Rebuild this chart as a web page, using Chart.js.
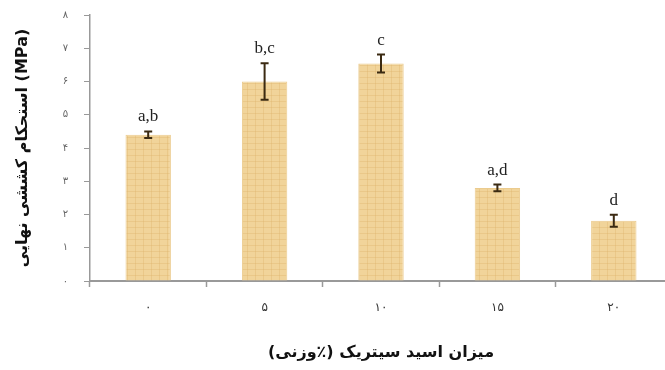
<!DOCTYPE html>
<html>
<head>
<meta charset="utf-8">
<script src="https://cdn.jsdelivr.net/npm/chart.js@4"></script>
<style>
  html, body { margin: 0; padding: 0; background: #fff; overflow: hidden; }
  #wrap { width: 672px; height: 370px; }
</style>
</head>
<body>
<div id="wrap"><canvas id="chart" width="672" height="370"></canvas></div>
<script>
const categories = ["۰", "۵", "۱۰", "۱۵", "۲۰"];
const strength = [4.4, 6.0, 6.54, 2.8, 1.81];
const errors = [0.1, 0.55, 0.27, 0.1, 0.18];
const letters = ["a,b", "b,c", "c", "a,d", "d"];
const yTickLabels = ["۰", "۱", "۲", "۳", "۴", "۵", "۶", "۷", "۸"];

// -------- bar texture
function makePattern() {
  const c = document.createElement("canvas");
  c.width = 8;
  c.height = 6;
  const g = c.getContext("2d");
  g.fillStyle = "#f1d49a";
  g.fillRect(0, 0, 8, 6);
  g.fillStyle = "rgba(222,178,105,0.35)";
  g.fillRect(0, 5, 8, 1);
  g.fillRect(7, 0, 1, 6);
  return g.createPattern(c, "repeat");
}

// -------- error bars + letters
const errorBars = {
  id: "errorBars",
  afterDatasetsDraw(chart) {
    const ctx = chart.ctx;
    const y = chart.scales.y;
    const meta = chart.getDatasetMeta(0);
    ctx.save();
    meta.data.forEach((bar, i) => {
      const x = bar.x;
      const hi = y.getPixelForValue(strength[i] + errors[i]);
      const lo = y.getPixelForValue(strength[i] - errors[i]);
      ctx.strokeStyle = "#3b2a12";
      ctx.lineWidth = 2;
      ctx.beginPath();
      ctx.moveTo(x, hi);
      ctx.lineTo(x, lo);
      ctx.moveTo(x - 4, hi);
      ctx.lineTo(x + 4, hi);
      ctx.moveTo(x - 4, lo);
      ctx.lineTo(x + 4, lo);
      ctx.stroke();

      ctx.fillStyle = "#222";
      ctx.font = "17px 'Liberation Serif'";
      ctx.textAlign = "center";
      ctx.textBaseline = "bottom";
      ctx.fillText(letters[i], x, hi - 6);
    });
    ctx.restore();
  },
};

new Chart(document.getElementById("chart"), {
  type: "bar",
  data: {
    labels: categories,
    datasets: [
      {
        data: strength,
        backgroundColor: makePattern(),
        borderColor: "#ebcb8e",
        borderWidth: 1,
        categoryPercentage: 1,
        barPercentage: 0.39,
      },
    ],
  },
  options: {
    responsive: false,
    animation: false,
    layout: { padding: { left: 0, right: 0, top: 15, bottom: 0 } },
    plugins: { legend: { display: false }, tooltip: { enabled: false } },
    scales: {
      x: {
        grid: {
          drawOnChartArea: false,
          offset: true,
          tickLength: 6,
          color: "#999",
          tickWidth: 1.5,
        },
        border: { color: "#999", width: 2 },
        ticks: {
          color: "#333",
          font: { family: "DejaVu Sans", size: 12 },
          padding: 14,
        },
        title: {
          display: true,
          text: "میزان اسید سیتریک (٪وزنی)",
          color: "#111",
          font: { family: "DejaVu Sans", size: 16, weight: "bold" },
          padding: { top: 0, bottom: 8 },
        },
        afterFit(scale) {
          scale.height = 89;
        },
      },
      y: {
        min: 0,
        max: 8,
        grid: { drawOnChartArea: false, tickLength: 6, color: "#999" },
        border: { color: "#999", width: 1.5 },
        ticks: {
          stepSize: 1,
          color: "#666",
          font: { family: "DejaVu Sans", size: 10 },
          padding: 16,
          callback: (v) => yTickLabels[v],
        },
        title: {
          display: true,
          text: "استحکام کششی نهایی (MPa)",
          color: "#111",
          font: { family: "DejaVu Sans", size: 16, weight: "bold" },
          padding: { top: 13, bottom: 0 },
        },
        afterFit(scale) {
          scale.width = 90;
          scale.paddingTop = 0;
          scale.paddingBottom = 0;
        },
      },
    },
  },
  plugins: [errorBars],
});
</script>
</body>
</html>
